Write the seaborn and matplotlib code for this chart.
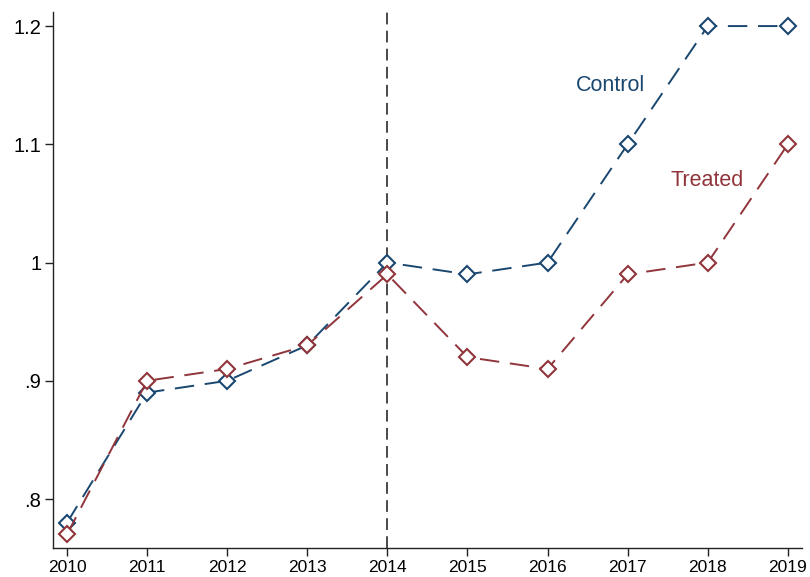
import numpy as np
import pandas as pd
import seaborn as sns
import matplotlib.pyplot as plt

years = list(range(2010, 2020))
control = [0.78, 0.89, 0.90, 0.93, 1.00, 0.99, 1.00, 1.10, 1.20, 1.20]
treated = [0.77, 0.90, 0.91, 0.93, 0.99, 0.92, 0.91, 0.99, 1.00, 1.10]
groups = ["Control", "Treated"]
colors = {"Control": "#1a476f", "Treated": "#90353b"}
y_ticks = [0.8, 0.9, 1.0, 1.1, 1.2]
y_tick_labels = [".8", ".9", "1", "1.1", "1.2"]
treat_year = 2014

df = pd.DataFrame(
    {
        "year": years * 2,
        "value": control + treated,
        "group": ["Control"] * len(years) + ["Treated"] * len(years),
    }
)

sns.set_style("white")
plt.rcParams["font.family"] = ["Liberation Sans", "DejaVu Sans"]

fig = plt.figure(figsize=(8.1, 5.77), dpi=100)
ax = fig.add_axes([0.0654, 0.0503, 0.9246, 0.9287])

sns.lineplot(
    data=df,
    x="year",
    y="value",
    hue="group",
    style="group",
    palette=colors,
    markers=["D", "D"],
    dashes=[(10, 5.5), (10, 5.5)],
    markersize=8.5,
    markerfacecolor="white",
    markeredgewidth=1.5,
    linewidth=1.4,
    legend=False,
    ax=ax,
)
# hollow diamonds with edges in the line colour
for line in ax.lines:
    line.set_markeredgecolor(line.get_color())

ax.axvline(treat_year, color="#3a3a3a", lw=1.3, dashes=(6.5, 3.5), zorder=0)

ax.text(2016.79, 1.150, "Control", color=colors["Control"], fontsize=15.5,
        ha="center", va="center")
ax.text(2017.99, 1.069, "Treated", color=colors["Treated"], fontsize=15.5,
        ha="center", va="center")

ax.set_xlim(2009.825, 2019.175)
ax.set_ylim(0.7586, 1.2118)
ax.set_xticks(years)
ax.set_xticklabels([str(y) for y in years], fontsize=12.5)
ax.set_yticks(y_ticks)
ax.set_yticklabels(y_tick_labels, fontsize=14.5)
ax.set_xlabel("")
ax.set_ylabel("")

sns.despine(ax=ax)
for side in ["left", "bottom"]:
    ax.spines[side].set_color("#222222")
    ax.spines[side].set_linewidth(1.0)
ax.tick_params(axis="both", direction="out", length=5.5, width=1.0,
               color="#222222", labelcolor="black", left=True, bottom=True, pad=3)

fig.savefig("out.png", dpi=100)
